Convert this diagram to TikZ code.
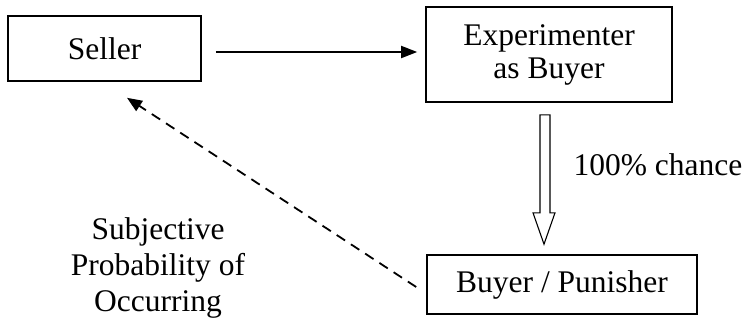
\documentclass[tikz,border=0pt]{standalone}
\usepackage{fontspec}
\setmainfont{Liberation Serif}
\usetikzlibrary{arrows.meta,calc}
\begin{document}
\begin{tikzpicture}[x=1pt,y=-1pt,
  box/.style={draw,line width=1.6pt,inner sep=0pt,align=center,font=\fontsize{31.5}{33}\selectfont},
  lbl/.style={inner sep=0pt,align=center,font=\fontsize{31.5}{36}\selectfont},
  solidarr/.style={line width=1.8pt,-{Triangle[length=16pt,width=12pt]}},
  dasharr/.style={line width=1.8pt,dash pattern=on 10pt off 7pt,-{Triangle[length=15pt,width=12pt]}},
  hollow/.style={draw,line width=1.1pt,fill=white}]
\useasboundingbox (0,0) rectangle (749,322);
\node[box,minimum width=193pt,minimum height=65pt] (seller) at (104.5,48.5) {Seller};
\node[box,minimum width=246pt,minimum height=95pt] (exp) at (549,54.5) {Experimenter\\as Buyer};
\node[box,minimum width=270pt,minimum height=59pt] (bp) at (562,284.5) {Buyer / Punisher};
\node[lbl] (chance) at (658,165) {100\% chance};
\node[lbl] (subj) at (158,268) {Subjective\\Probability of\\Occurring};
\coordinate (dtip) at ($(seller.south)+(22.5,16)$);
% solid arrow
\draw[solidarr] ($(seller.east)+(14,3.5)$) -- ($(exp.west)+(-8,-2.5)$);
% hollow arrow
\draw[hollow]
  ($(exp.south)+(-9,12)$) -- ($(exp.south)+(1,12)$) -- ($(exp.south)+(1,110)$)
  -- ($(exp.south)+(6,110)$) -- ($(bp.north)+(-18,-10)$) -- ($(exp.south)+(-16,110)$)
  -- ($(exp.south)+(-9,110)$) -- cycle;
% dashed arrow
\draw[dasharr] ($(bp.west)+(-10,2.5)$) -- (dtip);
\end{tikzpicture}
\end{document}
